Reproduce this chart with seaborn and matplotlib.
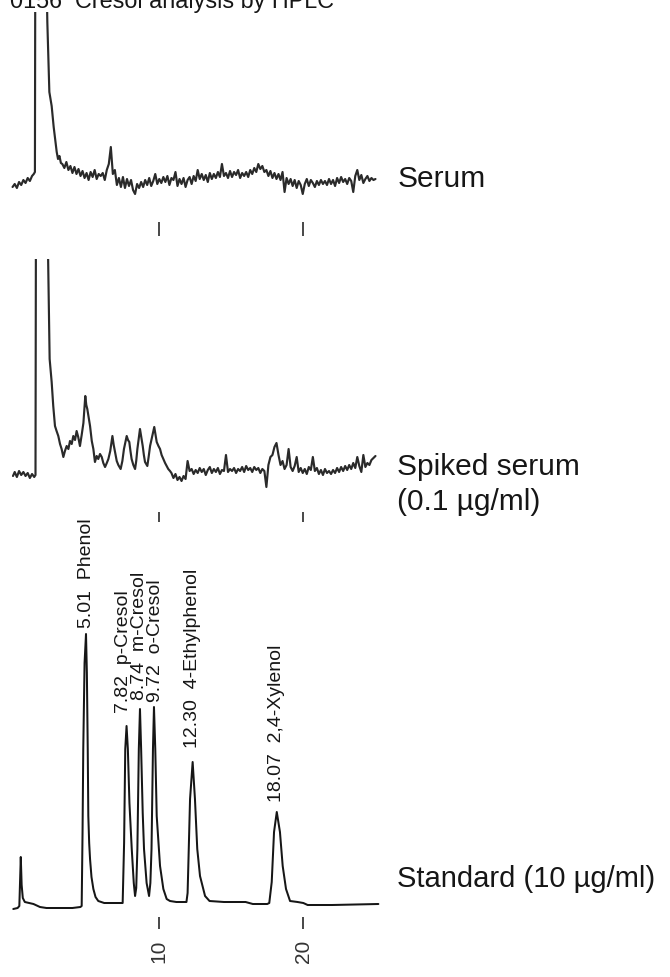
import numpy as np
import pandas as pd
import matplotlib
matplotlib.use("Agg")
import matplotlib.pyplot as plt
import seaborn as sns

# ---------------- data ----------------
title = "0156  Cresol analysis by HPLC"
label_serum = "Serum"
label_spiked_1 = "Spiked serum"
label_spiked_2 = "(0.1 µg/ml)"
label_standard = "Standard (10 µg/ml)"
tick_values = [10, 20]
tick_labels = ["10", "20"]

# Serum trace (time in min, signal in arbitrary units)
serum_head_t = [-0.15, 0.0, 0.15, 0.30, 0.45, 0.60, 0.75, 0.90, 1.05, 1.20, 1.32, 1.40,
                1.45, 1.90, 2.20, 2.26, 2.40, 2.56, 2.70, 2.80, 2.91, 3.00, 3.10, 3.20]
serum_head_v = [-5, -2, -6, 0, -3, 2, -1, 4, 1, 6, 8, 10,
                420, 480, 210, 160, 90, 76, 55, 43, 30, 23, 26, 19]
serum_noise_start = 3.30
serum_noise_step = 0.14
serum_noise_v = [18, 14, 20, 12, 16, 9, 15, 8, 13, 6,
                 11, 4, 9, 2, 10, 5, 12, 3, 8, 6,
                 9, 2, 12, 18, 35, 8, 12, -3, 4, -5,
                 5, -6, 3, -4, 2, -8, -12, -2, -6, 0,
                 -5, 2, -3, 4, -4, 1, 8, -2, 3, -1,
                 5, 0, 6, -3, 4, 2, 10, -4, 3, -2,
                 4, -5, 2, 5, -2, 6, 1, 12, 3, 8,
                 2, 7, 0, 9, 3, 8, 4, 10, 5, 18,
                 6, 9, 4, 11, 5, 10, 7, 12, 4, 9,
                 6, 10, 5, 12, 8, 14, 10, 18, 13, 16,
                 10, 12, 6, 11, 4, 9, 3, 8, 2, 10,
                 -10, 4, -2, 3, -4, 2, -6, 1, -3, -12,
                 -2, 3, -4, 2, -1, -5, 1, -3, 2, -2,
                 1, -3, 3, -2, 2, -4, 4, -1, 5, 0,
                 3, -2, 4, 1, -10, 6, 12, 2, 7, -1,
                 3, 6, 1, 4, 2, 3]

# Spiked serum trace
spiked_head_t = [-0.12, 0.0, 0.15, 0.30, 0.45, 0.60, 0.75, 0.90, 1.05, 1.20, 1.35, 1.44,
                 1.50, 1.95, 2.25, 2.30, 2.42, 2.56, 2.67, 2.79, 2.90, 3.02, 3.14, 3.25, 3.37,
                 3.48, 3.60, 3.72, 3.83, 3.95, 4.06, 4.18, 4.29, 4.40, 4.52, 4.64, 4.76,
                 4.89, 4.96, 5.03, 5.12, 5.22, 5.34, 5.45, 5.56, 5.68, 5.79, 5.91, 6.03,
                 6.14, 6.26, 6.38, 6.49, 6.62, 6.77, 6.86, 6.95, 7.07, 7.18, 7.34, 7.46,
                 7.57, 7.66, 7.76, 7.85, 7.94, 8.02, 8.10, 8.22, 8.34, 8.42, 8.50, 8.59,
                 8.68, 8.77, 8.87, 8.95, 9.03, 9.11, 9.19, 9.28, 9.38, 9.52, 9.67, 9.76,
                 9.84, 9.96, 10.07, 10.18, 10.30, 10.42, 10.53, 10.64, 10.76]
spiked_head_v = [-1, 3, -2, 4, 0, 3, -1, 2, -3, 1, -2, 0,
                 500, 560, 300, 230, 116, 93, 69, 49, 44, 39, 31, 26, 18,
                 24, 29, 26, 34, 31, 39, 35, 44, 38, 29, 40, 52,
                 79, 70, 66, 58, 49, 34, 26, 13, 19, 16, 21, 18,
                 12, 8, 12, 16, 24, 39, 30, 23, 14, 10, 6, 14,
                 26, 32, 39, 35, 33, 24, 16, 10, 6, 14, 26, 36,
                 46, 38, 29, 20, 13, 11, 9, 18, 29, 38, 48, 40,
                 33, 29, 26, 20, 16, 12, 9, 6, 4]
spiked_noise_start = 10.86
spiked_noise_step = 0.14
spiked_noise_v = [2, -3, 1, -5, -2, -6, -1, -4, 14, 4,
                  6, 1, 5, 2, 7, 3, 6, 0, 5, 8,
                  2, 6, 3, 7, 1, 5, 4, 20, 3, 6,
                  4, 7, 2, 6, 4, 8, 3, 9, 5, 7,
                  3, 8, 5, 7, 2, 6, 4, -12, 10, 18,
                  20, 28, 32, 20, 10, 14, 6, 10, 26, 8,
                  4, 9, 18, 3, 7, 2, 6, 1, 8, 5,
                  18, 4, 7, 1, 5, 0, 6, 2, 4, 1,
                  5, 2, 7, 3, 8, 4, 9, 5, 10, 6,
                  12, 7, 18, 9, 3, 20, 8, 12, 10, 15,
                  17, 19]

# Standard trace
standard_t = [-0.10, 0.20, 0.32, 0.42, 0.48, 0.56, 0.70, 1.00, 1.30, 1.75, 2.20, 3.00, 4.00, 4.55,
              4.64, 4.70, 4.75, 4.84, 4.94, 5.00, 5.06, 5.10, 5.16, 5.22, 5.32, 5.45, 5.60, 5.79, 6.20,
              7.00, 7.48, 7.58, 7.66, 7.75, 7.84, 7.95, 8.11, 8.25, 8.34,
              8.42, 8.50, 8.60, 8.68, 8.76, 8.87, 8.96, 9.14, 9.31,
              9.40, 9.48, 9.58, 9.65, 9.74, 9.84, 10.07, 10.30, 10.53, 10.76,
              11.20, 11.90, 11.98, 12.03, 12.15, 12.33, 12.49, 12.65, 12.84, 13.19, 13.50,
              14.50, 16.00, 16.50, 17.50, 17.64, 17.81, 17.97, 18.16, 18.38, 18.57, 18.80,
              19.08, 19.60, 20.00, 20.30, 22.00, 25.20]
standard_v = [-6, -5, -3, 46, 18, 5, 1, 0, -1, -4, -5, -5, -5, -4,
              -3, 70, 154, 240, 269, 230, 154, 87, 60, 44, 26, 14, 6, 2, 0,
              0, 0, 60, 154, 177, 154, 100, 54, 20, 7,
              15, 54, 154, 194, 154, 90, 54, 20, 7,
              20, 54, 154, 196, 154, 87, 37, 14, 4, 2,
              1, 1, 10, 37, 104, 141, 104, 54, 27, 7, 2,
              1, 1, -1, -1, 0, 21, 71, 91, 71, 37, 14,
              2, 1, 0, -2, -2, -1]

peak_rt = [5.01, 7.82, 8.74, 9.72, 12.30, 18.07]
peak_names = ["Phenol", "p-Cresol", "m-Cresol", "o-Cresol", "4-Ethylphenol", "2,4-Xylenol"]


def noisy_trace(head_t, head_v, start, step, noise_v):
    t = list(head_t) + list(np.round(start + step * np.arange(len(noise_v)), 3))
    v = list(head_v) + list(noise_v)
    return pd.DataFrame({"time": t, "signal": v})


serum_df = noisy_trace(serum_head_t, serum_head_v, serum_noise_start, serum_noise_step, serum_noise_v)
spiked_df = noisy_trace(spiked_head_t, spiked_head_v, spiked_noise_start, spiked_noise_step, spiked_noise_v)
standard_df = pd.DataFrame({"time": standard_t, "signal": standard_v})

# ---------------- style ----------------
sns.set_theme(style="white")
plt.rcParams["font.family"] = ["Liberation Sans", "DejaVu Sans"]

W, H = 670, 978
fig = plt.figure(figsize=(W / 100, H / 100), dpi=100)

XLIM = (-1.02, 45.41)
INK = "#161616"


def make_axes(top_px, bottom_px, ylim, tick_len_pt):
    ax = fig.add_axes([0, 1 - bottom_px / H, 1, (bottom_px - top_px) / H])
    ax.set_facecolor("none")
    for s in ax.spines.values():
        s.set_visible(False)
    ax.set_xlim(*XLIM)
    ax.set_ylim(*ylim)
    ax.set_yticks([])
    ax.set_xlabel("")
    ax.set_ylabel("")
    ax.tick_params(axis="x", bottom=True, direction="out", length=tick_len_pt,
                   width=1.1, color=INK, pad=7)
    return ax


ax1 = make_axes(13, 223, (-40, 170), 10)
ax2 = make_axes(260, 513, (-37, 216), 7.5)
ax3 = make_axes(540, 918, (-14, 364), 8.6)

for ax, df, lw, col in [(ax1, serum_df, 1.55, "#2a2a2a"),
                        (ax2, spiked_df, 1.55, "#2a2a2a"),
                        (ax3, standard_df, 1.45, INK)]:
    sns.lineplot(data=df, x="time", y="signal", ax=ax, color=col, lw=lw,
                 estimator=None, sort=False)
    ax.set_xlabel("")
    ax.set_ylabel("")
    ax.set_yticks([])

ax1.set_xticks(tick_values, [])
ax2.set_xticks(tick_values, [])
ax3.set_xticks(tick_values, tick_labels, rotation=90, fontsize=15, color="#333333")

# trace names on the right
tx = 26.5
ax1.text(tx, -4, label_serum, fontsize=21.5, va="baseline", ha="left", color=INK)
ax2.text(tx, 1, label_spiked_1, fontsize=21.5, va="baseline", ha="left", color=INK)
ax2.text(tx, -34, label_spiked_2, fontsize=21.5, va="baseline", ha="left", color=INK,
         clip_on=False)
ax3.text(tx, 17, label_standard, fontsize=21, va="baseline", ha="left", color=INK)

# peak annotations on the standard
st = np.array(standard_t)
sv = np.array(standard_v)
dx_px = [-1, -4.5, -1, 1, 0, 1.5]
dy_px = [7, 14, 10, 6, 15, 11]
for rt, name, dx, dy in zip(peak_rt, peak_names, dx_px, dy_px):
    apex = sv[np.abs(st - rt) < 0.2].max()
    ax3.annotate(f"{rt:.2f}  {name}", xy=(rt, apex), xytext=(dx * 0.72, dy * 0.72),
                 textcoords="offset points", rotation=90, ha="center", va="bottom",
                 fontsize=14, color=INK)

fig.text(10 / W, 1 - 8 / H, title, fontsize=16.8, va="baseline", ha="left", color=INK)

fig.savefig("out.png", dpi=100)
